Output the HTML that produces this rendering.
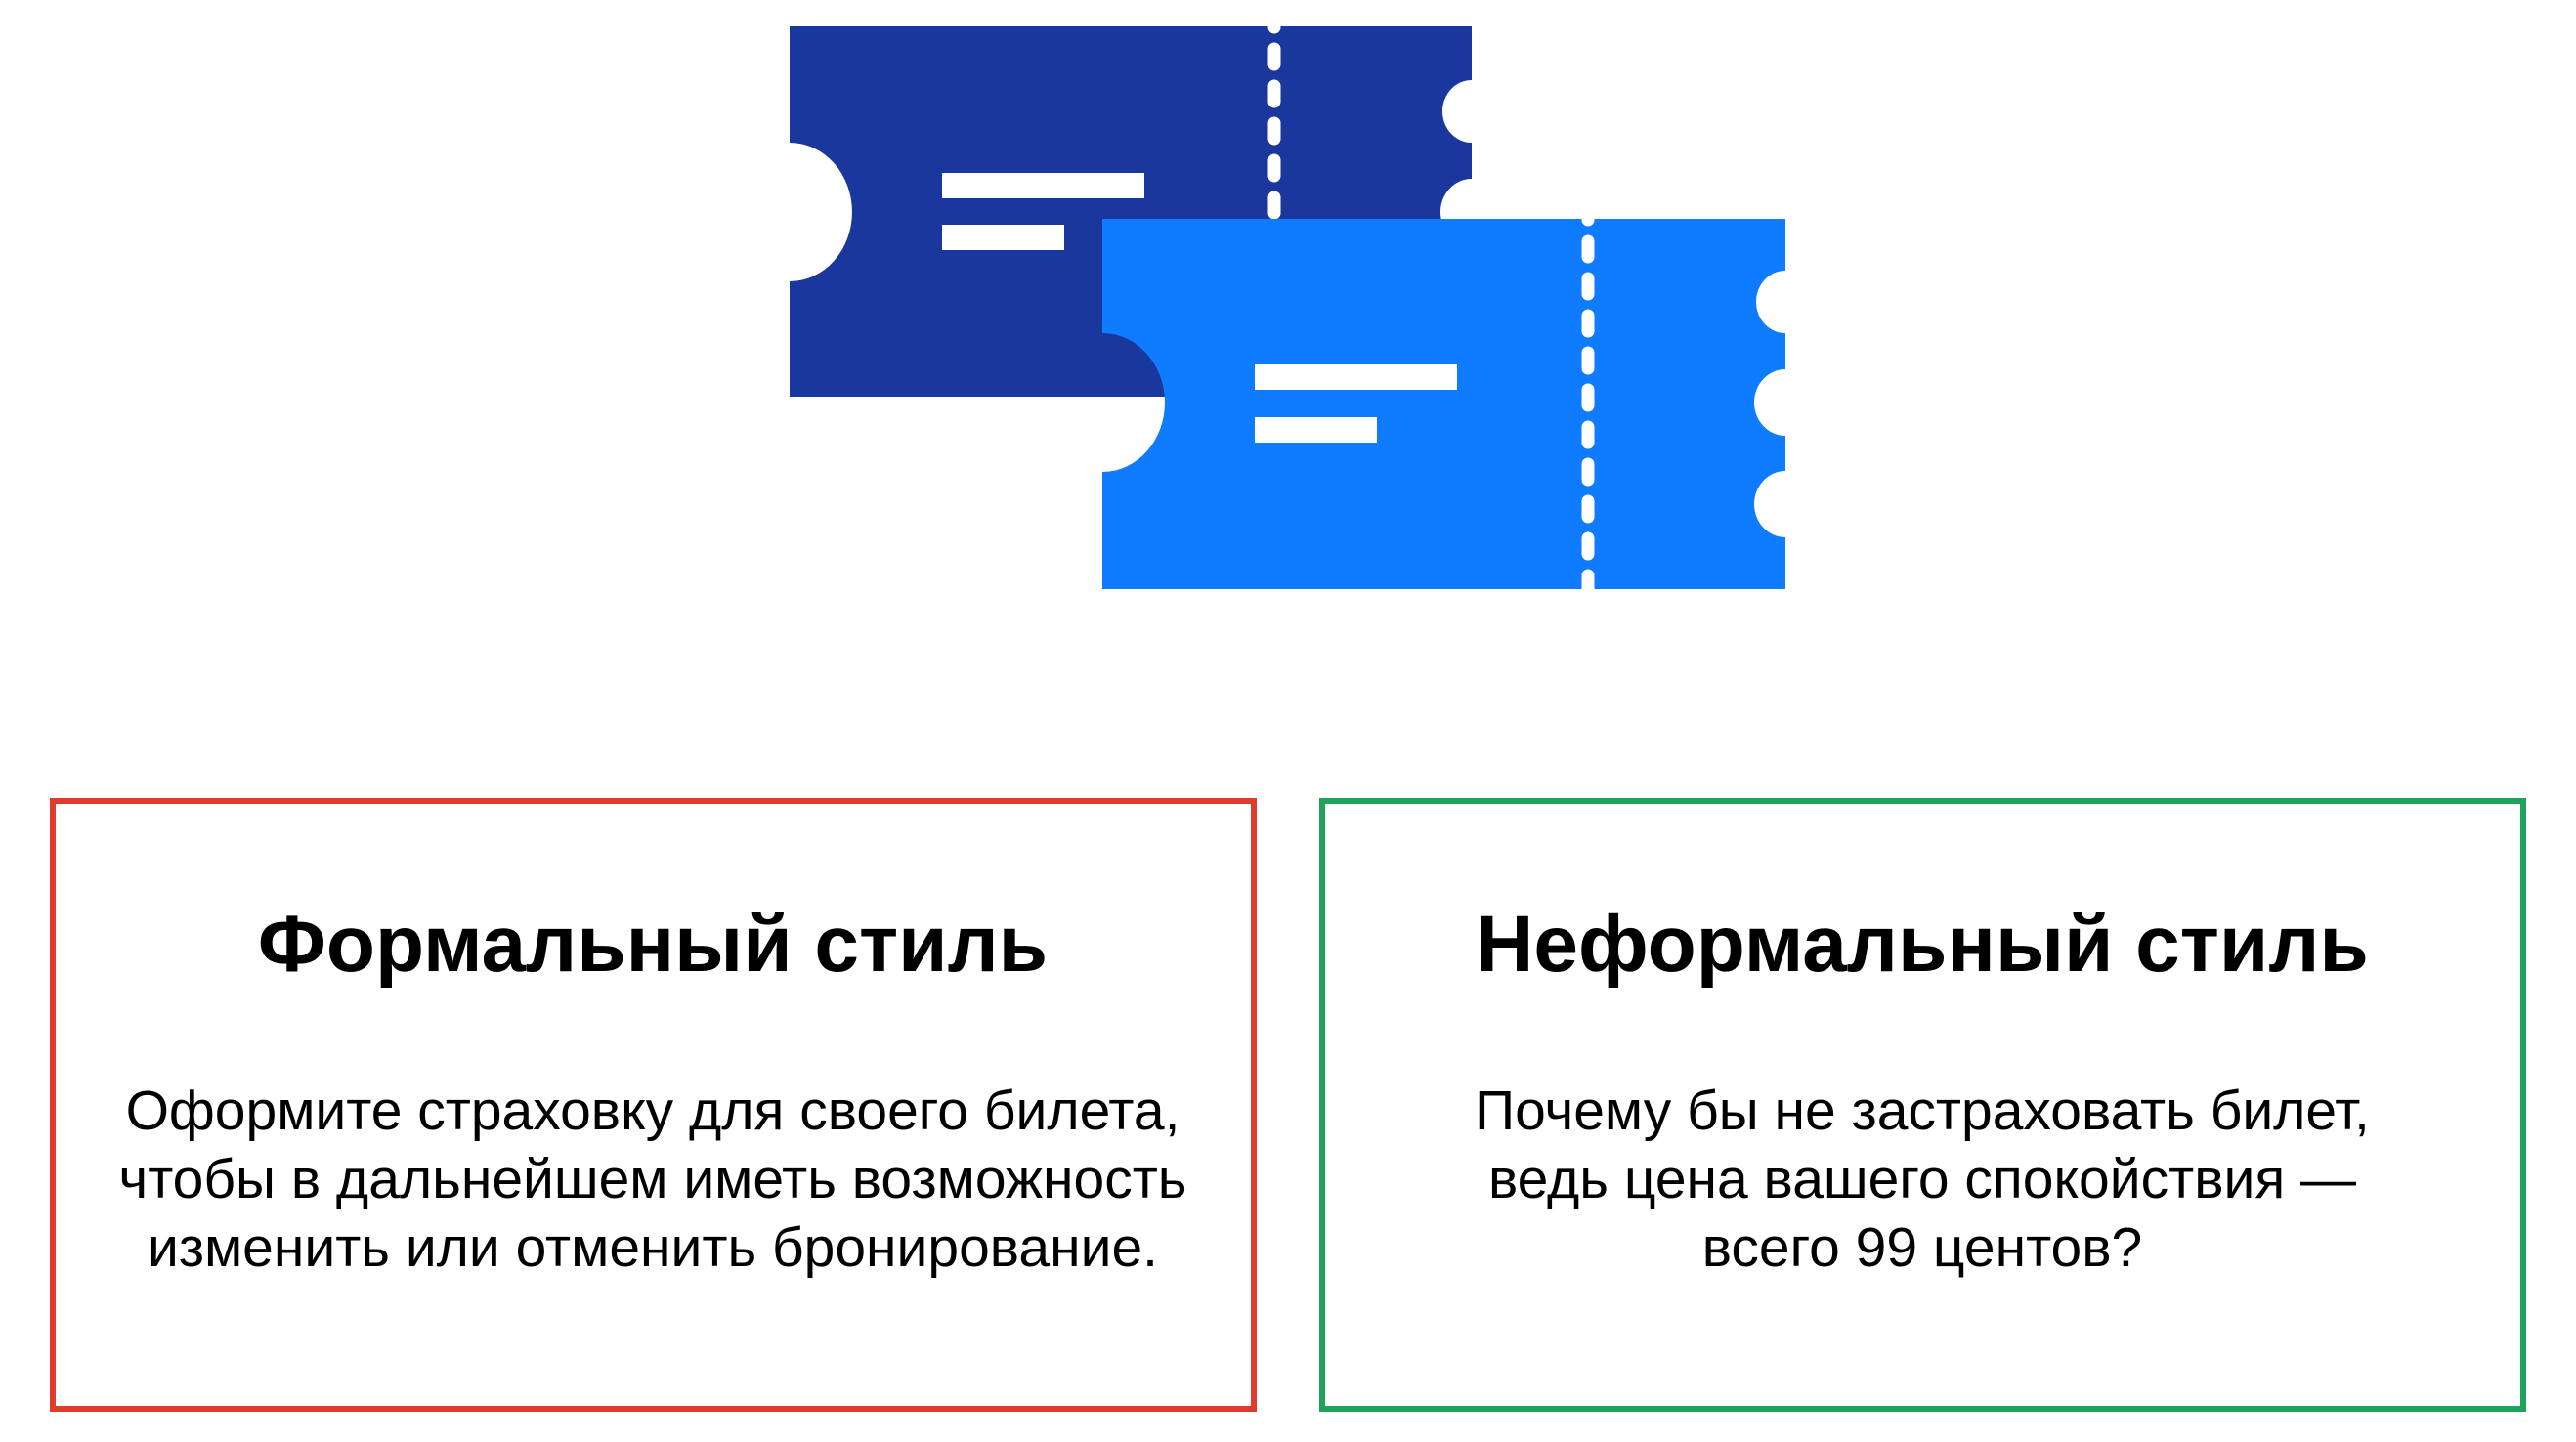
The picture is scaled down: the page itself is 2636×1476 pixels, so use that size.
<!DOCTYPE html>
<html><head><meta charset="utf-8"><style>
html,body{margin:0;padding:0;background:#fff;}
body{width:2636px;height:1476px;position:relative;overflow:hidden;font-family:"Liberation Sans",sans-serif;}
svg{position:absolute;left:0;top:0;}
</style></head><body>
<svg width="2636" height="1476" viewBox="0 0 2636 1476" xmlns="http://www.w3.org/2000/svg">
<path fill="#1a379e" d="M808,27 H1506 V82 A30,32 0 0 0 1506,146 V183 A32,34 0 0 0 1506,251 V285 A32,34 0 0 0 1506,353 V406 H808 V288 A64,71 0 0 0 808,146 Z"/>
<line x1="1304" y1="20" x2="1304" y2="230" stroke="#fff" stroke-width="13" stroke-linecap="round" stroke-dasharray="16 22" stroke-dashoffset="8"/>
<rect x="964" y="177" width="207" height="26" fill="#fff"/>
<rect x="964" y="230" width="125" height="26" fill="#fff"/>
<path fill="#0f7bff" d="M1128,224 H1827 V277 A30,32 0 0 0 1827,341 V378 A32,34 0 0 0 1827,446 V482 A32,34 0 0 0 1827,550 V603 H1128 V483 A64,71 0 0 0 1128,341 Z"/>
<line x1="1625" y1="217" x2="1625" y2="610" stroke="#fff" stroke-width="13" stroke-linecap="round" stroke-dasharray="16 22" stroke-dashoffset="8"/>
<rect x="1284" y="373" width="207" height="26" fill="#fff"/>
<rect x="1284" y="427" width="125" height="26" fill="#fff"/>
<rect x="54" y="820" width="1229" height="622" fill="none" stroke="#e03c2c" stroke-width="6"/>
<rect x="1353" y="820" width="1229" height="622" fill="none" stroke="#1fa35a" stroke-width="6"/>
<g font-family="Liberation Sans, sans-serif" text-anchor="middle" fill="#000">
<text x="668" y="994" font-size="82" font-weight="bold">Формальный стиль</text>
<text x="668" y="1156" font-size="57">Оформите страховку для своего билета,</text>
<text x="668" y="1226" font-size="57">чтобы в дальнейшем иметь возможность</text>
<text x="668" y="1296" font-size="57">изменить или отменить бронирование.</text>
<text x="1967" y="994" font-size="82" font-weight="bold">Неформальный стиль</text>
<text x="1967" y="1156" font-size="57">Почему бы не застраховать билет,</text>
<text x="1967" y="1226" font-size="57">ведь цена вашего спокойствия —</text>
<text x="1967" y="1296" font-size="57">всего 99 центов?</text>
</g>
</svg>
</body></html>
